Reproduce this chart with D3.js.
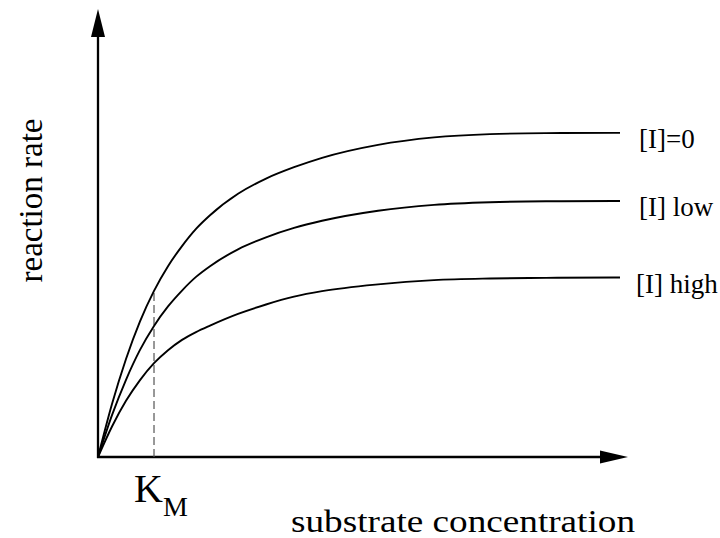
<!DOCTYPE html>
<html>
<head>
<meta charset="utf-8">
<script src="https://cdn.jsdelivr.net/npm/d3@7"></script>
<style>
  html, body { margin: 0; padding: 0; background: #fff; }
  svg { display: block; }
  text { font-family: "Liberation Serif", "Times New Roman", serif; fill: #000; }
</style>
</head>
<body>
<svg id="chart" width="720" height="538"></svg>
<script>
// ---- data (KM = 1 unit on x, Vmax([I]=0) ~ 1) ----
const substrate = [0, 0.25, 0.5, 0.75, 1, 1.25, 1.5, 1.75, 2, 2.5, 3, 3.5, 4, 5, 6, 7, 8, 9.32];
const rateNoInhibitor = [0, 0.163, 0.302, 0.418, 0.512, 0.588, 0.65, 0.703, 0.745, 0.811, 0.858, 0.893, 0.922, 0.962, 0.985, 0.995, 0.998, 0.999];
const rateLowInhibitor = [0, 0.129, 0.238, 0.33, 0.404, 0.464, 0.513, 0.555, 0.588, 0.64, 0.677, 0.706, 0.728, 0.759, 0.777, 0.785, 0.788, 0.789];
const rateHighInhibitor = [0, 0.094, 0.173, 0.237, 0.289, 0.329, 0.361, 0.385, 0.405, 0.441, 0.47, 0.494, 0.511, 0.532, 0.545, 0.55, 0.552, 0.553];
const seriesLabels = ["[I]=0", "[I] low", "[I] high"];
const KM = 1;
const xTitle = "substrate concentration";
const yTitle = "reaction rate";

const svg = d3.select("#chart");

const x = d3.scaleLinear().domain([0, 9.32]).range([98, 620]);
const y = d3.scaleLinear().domain([0, 1]).range([457, 132.5]);

// axes with arrowheads
const axisG = svg.append("g");
axisG.append("line")
  .attr("x1", x(0)).attr("y1", y(0) + 1).attr("x2", x(0)).attr("y2", 36)
  .attr("stroke", "#000").attr("stroke-width", 2.3);
axisG.append("path")
  .attr("d", `M${x(0)},9 L${x(0) - 7},37 L${x(0) + 7},37 Z`)
  .attr("fill", "#000");
axisG.append("line")
  .attr("x1", x(0) - 1).attr("y1", y(0)).attr("x2", 601).attr("y2", y(0))
  .attr("stroke", "#000").attr("stroke-width", 2.3);
axisG.append("path")
  .attr("d", `M628,${y(0)} L600,${y(0) - 6.5} L600,${y(0) + 6.5} Z`)
  .attr("fill", "#000");

// KM dashed guide up to the uninhibited curve
const kmIdx = substrate.indexOf(KM);
svg.append("line")
  .attr("x1", x(KM)).attr("x2", x(KM))
  .attr("y1", y(0)).attr("y2", y(rateNoInhibitor[kmIdx]))
  .attr("stroke", "#555").attr("stroke-width", 1.2)
  .attr("stroke-dasharray", "8,4");

// curves
const series = [rateNoInhibitor, rateLowInhibitor, rateHighInhibitor];
const line = d3.line()
  .x((d, i) => x(substrate[i]))
  .y(d => y(d))
  .curve(d3.curveMonotoneX);

svg.selectAll("path.curve")
  .data(series)
  .join("path")
  .attr("class", "curve")
  .attr("d", line)
  .attr("fill", "none")
  .attr("stroke", "#000")
  .attr("stroke-width", 1.9);

// series labels
const labelX = [639, 639, 636];
svg.selectAll("text.slabel")
  .data(series)
  .join("text")
  .attr("class", "slabel")
  .attr("x", (d, i) => labelX[i])
  .attr("y", d => y(d[d.length - 1]) + 15.5)
  .attr("font-size", 27)
  .text((d, i) => seriesLabels[i]);

// K_M label
const km = svg.append("text").attr("x", 134).attr("y", 502);
km.append("tspan").attr("font-size", 40).text("K");
km.append("tspan").attr("font-size", 28).attr("dy", 14).text("M");

// axis titles
svg.append("text")
  .attr("x", 291).attr("y", 532)
  .attr("font-size", 31)
  .attr("textLength", 344).attr("lengthAdjust", "spacingAndGlyphs")
  .text(xTitle);

svg.append("text")
  .attr("transform", "translate(42,200.5) rotate(-90)")
  .attr("text-anchor", "middle")
  .attr("font-size", 33)
  .text(yTitle);
</script>
</body>
</html>
